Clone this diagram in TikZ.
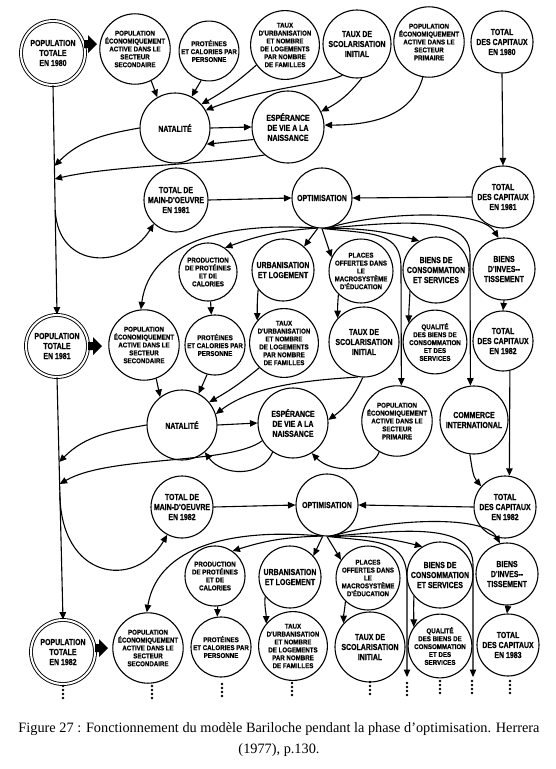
\documentclass[tikz,border=0pt]{standalone}
\usepackage{fontspec}
\setmainfont{Liberation Serif}
\newfontfamily\nfa[FakeStretch=0.8,FakeBold=0.6]{Liberation Sans}
\newfontfamily\nfb[FakeStretch=0.88,FakeBold=0.6]{Liberation Sans}
\usetikzlibrary{arrows.meta}
\newcommand\fmd{\nfa\bfseries\fontsize{8.7}{10}\selectfont}
\newcommand\fsm{\nfb\bfseries\fontsize{7}{7.9}\selectfont}
\tikzset{
  nd/.style={circle, draw, line width=1.1pt, inner sep=0pt, align=center, minimum size=#1},
  md/.style={font=\fmd},
  sm/.style={font=\fsm},
  pop/.style={circle, draw, double, double distance=2pt, line width=0.9pt, inner sep=0pt, align=center, minimum size=#1, font=\fmd},
  arr/.style={-{Triangle[length=7.5pt,width=6.5pt]}, line width=1.1pt},
  blk/.style={fill=black},
  dot/.style={fill=black},
  capt/.style={font=\fontsize{14.3}{17}\selectfont, inner sep=0pt}
}
\begin{document}
\begin{tikzpicture}[x=1pt,y=-1pt]
\useasboundingbox (0,0) rectangle (556,769);
% row 1
\node[pop=64pt] (P0) at (53,53) {POPULATION\\TOTALE\\EN 1980};
\node[nd=64pt, sm] (S0) at (135,49) {POPULATION\\ÉCONOMIQUEMENT\\ACTIVE DANS LE\\SECTEUR\\SECONDAIRE};
\node[nd=58pt, sm] (Pr0) at (209,51) {PROTÉINES\\ET CALORIES PAR\\PERSONNE};
\node[nd=66pt, sm] (U0) at (285,45) {TAUX\\D'URBANISATION\\ET NOMBRE\\DE LOGEMENTS\\PAR NOMBRE\\DE FAMILLES};
\node[nd=68pt, md] (Sc0) at (357,44) {TAUX DE\\SCOLARISATION\\INITIAL};
\node[nd=62pt, sm] (Pp0) at (429,42) {POPULATION\\ÉCONOMIQUEMENT\\ACTIVE DANS LE\\SECTEUR\\PRIMAIRE};
\node[nd=62pt, md] (K0) at (502,42) {TOTAL\\DES CAPITAUX\\EN 1980};
% row 2
\node[nd=70pt, md] (N0) at (175,128) {NATALITÉ};
\node[nd=72pt, md] (E0) at (288,127) {ESPÉRANCE\\DE VIE A LA\\NAISSANCE};
% row 3
\node[nd=64pt, md] (M1) at (176,200) {TOTAL DE\\MAIN-D'OEUVRE\\EN 1981};
\node[nd=60pt, md] (O1) at (322,198) {OPTIMISATION};
\node[nd=62pt, md] (K1) at (503,197) {TOTAL\\DES CAPITAUX\\EN 1981};
% row 4
\node[nd=58pt, sm] (PP1) at (208,272) {PRODUCTION\\DE PROTÉINES\\ET DE\\CALORIES};
\node[nd=62pt, md] (UL1) at (283,270) {URBANISATION\\ET LOGEMENT};
\node[nd=60pt, sm] (PL1) at (361,271) {PLACES\\OFFERTES DANS\\LE\\MACROSYSTÈME\\D'ÉDUCATION};
\node[nd=66pt, md] (BC1) at (436,270) {BIENS DE\\CONSOMMATION\\ET SERVICES};
\node[nd=62pt, md] (BI1) at (504,269) {BIENS\\D'INVES--\\TISSEMENT};
% row 5
\node[pop=62pt] (P1) at (57,346) {POPULATION\\TOTALE\\EN 1981};
\node[nd=68pt, sm] (S1) at (144,345) {POPULATION\\ÉCONOMIQUEMENT\\ACTIVE DANS LE\\SECTEUR\\SECONDAIRE};
\node[nd=60pt, sm] (Pr1) at (215,345) {PROTÉINES\\ET CALORIES PAR\\PERSONNE};
\node[nd=68pt, sm] (U1) at (284,343) {TAUX\\D'URBANISATION\\ET NOMBRE\\DE LOGEMENTS\\PAR NOMBRE\\DE FAMILLES};
\node[nd=70pt, md] (Sc1) at (364,342) {TAUX DE\\SCOLARISATION\\INITIAL};
\node[nd=62pt, sm] (Q1) at (435,342) {QUALITÉ\\DES BIENS DE\\CONSOMMATION\\ET DES\\SERVICES};
\node[nd=60pt, md] (K2a) at (503,341) {TOTAL\\DES CAPITAUX\\EN 1982};
% row 6
\node[nd=70pt, md] (N1) at (182,425) {NATALITÉ};
\node[nd=70pt, md] (E1) at (293,423) {ESPÉRANCE\\DE VIE A LA\\NAISSANCE};
\node[nd=68pt, sm] (Pp1) at (397,421) {POPULATION\\ÉCONOMIQUEMENT\\ACTIVE DANS LE\\SECTEUR\\PRIMAIRE};
\node[nd=68pt, md] (CI1) at (474,420) {COMMERCE\\INTERNATIONAL};
% row 7
\node[nd=62pt, md] (M2) at (182,507) {TOTAL DE\\MAIN-D'OEUVRE\\EN 1982};
\node[nd=62pt, md] (O2) at (327,505) {OPTIMISATION};
\node[nd=62pt, md] (K2) at (505,507) {TOTAL\\DES CAPITAUX\\EN 1982};
% row 8
\node[nd=60pt, sm] (PP2) at (215,576) {PRODUCTION\\DE PROTÉINES\\ET DE\\CALORIES};
\node[nd=62pt, md] (UL2) at (290,577) {URBANISATION\\ET LOGEMENT};
\node[nd=60pt, sm] (PL2) at (368,578) {PLACES\\OFFERTES DANS\\LE\\MACROSYSTÈME\\D'ÉDUCATION};
\node[nd=66pt, md] (BC2) at (440,575) {BIENS DE\\CONSOMMATION\\ET SERVICES};
\node[nd=62pt, md] (BI2) at (507,574) {BIENS\\D'INVES--\\TISSEMENT};
% row 9
\node[pop=64pt] (P2) at (63,652) {POPULATION\\TOTALE\\EN 1982};
\node[nd=70pt, sm] (S2) at (148,648) {POPULATION\\ÉCONOMIQUEMENT\\ACTIVE DANS LE\\SECTEUR\\SECONDAIRE};
\node[nd=60pt, sm] (Pr2) at (221,647) {PROTÉINES\\ET CALORIES PAR\\PERSONNE};
\node[nd=68pt, sm] (U2) at (293,646) {TAUX\\D'URBANISATION\\ET NOMBRE\\DE LOGEMENTS\\PAR NOMBRE\\DE FAMILLES};
\node[nd=70pt, md] (Sc2) at (370,647) {TAUX DE\\SCOLARISATION\\INITIAL};
\node[nd=62pt, sm] (Q2) at (440,646) {QUALITÉ\\DES BIENS DE\\CONSOMMATION\\ET DES\\SERVICES};
\node[nd=62pt, md] (K3) at (508,645) {TOTAL\\DES CAPITAUX\\EN 1983};
% coordinates on vertical lines and free ends
\coordinate (v1) at (54.4,166);
\coordinate (v2) at (54.6,179);
\coordinate (v3) at (55.2,210);
\coordinate (v4) at (59.1,462);
\coordinate (v5) at (59.6,484);
\coordinate (v6) at (59.8,492);
\coordinate (e1) at (407,677);
\coordinate (e2) at (473,677);
% black block arrows
\fill[blk] (84,40) -- (88,40) -- (88,35) -- (97,44) -- (88,53) -- (88,48) -- (84,48) -- cycle;
\fill[blk] (88,342) -- (93,342) -- (93,337) -- (102,346) -- (93,355) -- (93,350) -- (88,350) -- cycle;
\fill[blk] (95,644) -- (99,644) -- (99,639) -- (108,648) -- (99,657) -- (99,652) -- (95,652) -- cycle;
% 1980 block
\draw[arr] (S0.-63) -- (N0.120);
\draw[arr] (Pr0.-105) -- (N0.62);
\draw[arr] (U0.-145) to[bend left=6] (N0.42);
\draw[arr] (Sc0.-115) .. controls (325,84) and (262,88) .. (N0.30);
\draw[arr] (Sc0.-82) to[bend left=12] (E0.25);
\draw[arr] (Pp0.-100) to[out=-105, in=0] (E0.3);
\draw[arr] (N0.0) -- (E0.180);
\draw[arr] (E0.-160) -- (N0.-27);
\draw[arr] (N0.180) to[out=190, in=45] (v1);
\draw[arr] (E0.-130) .. controls (200,165) and (110,166) .. (v2);
\draw[arr] (P0.south) -- (P1.north);
\draw[arr] (K0.south) -- (K1.north);
\draw[arr] (M1.0) -- (O1.180);
\draw[arr] (K1.180) -- (O1.0);
\draw[arr] (v3) .. controls (58,270) and (125,270) .. (M1.-133);
% from optimisation 1981
\draw[arr] (O1.-100) to[bend right=8] (PP1.55);
\draw[arr] (O1.-100) .. controls (230,222) and (150,240) .. (S1.95);
\draw[arr] (O1.-98) -- (UL1.48);
\draw[arr] (O1.-90) -- (PL1.155);
\draw[arr] (O1.-85) to[bend left=8] (BC1.120);
\draw[arr] (O1.-80) .. controls (380,212) and (480,208) .. (BI1.100);
\draw[arr] (O1.-88) .. controls (375,234) and (401,232) .. (401,268) -- (Pp1.83);
\draw[arr] (O1.-82) .. controls (400,222) and (470,214) .. (470,255) -- (CI1.96);
\draw[arr] (PP1.-85) -- (Pr1.97);
\draw[arr] (UL1.-142) to[out=-95, in=90] (U1.140);
\draw[arr] (PL1.-134) to[out=-95, in=90] (Sc1.138);
\draw[arr] (BC1.-141) to[out=-92, in=90] (Q1.144);
\draw[arr] (BI1.-90) -- (K2a.90);
% 1981 block
\draw[arr] (S1.-70) -- (N1.128);
\draw[arr] (Pr1.-105) -- (N1.62);
\draw[arr] (U1.-135) to[bend left=5] (N1.40);
\draw[arr] (Sc1.-100) .. controls (315,380) and (255,384) .. (N1.18);
\draw[arr] (Sc1.-92) to[bend left=15] (E1.5);
\draw[arr] (N1.0) -- (E1.180);
\draw[arr] (Pp1.-120) .. controls (372,472) and (332,474) .. (E1.-58);
\draw[arr] (E1.-125) .. controls (262,478) and (222,476) .. (N1.-50);
\draw[arr] (N1.180) to[out=190, in=45] (v4);
\draw[arr] (E1.-150) .. controls (230,465) and (110,455) .. (v5);
\draw[arr] (P1.south) -- (P2.north);
\draw[arr] (K2a.-77) -- (K2.82);
\draw[arr] (CI1.-97) to[out=-80, in=130] (K2.139);
\draw[arr] (M2.0) -- (O2.180);
\draw[arr] (K2.180) -- (O2.0);
\draw[arr] (v6) .. controls (60,580) and (135,590) .. (M2.-118);
% from optimisation 1982
\draw[arr] (O2.-100) to[bend right=8] (PP2.55);
\draw[arr] (O2.-100) .. controls (235,528) and (158,545) .. (S2.92);
\draw[arr] (O2.-98) -- (UL2.42);
\draw[arr] (O2.-90) -- (PL2.146);
\draw[arr] (O2.-85) to[bend left=8] (BC2.122);
\draw[arr] (O2.-80) .. controls (390,518) and (485,515) .. (BI2.103);
\draw[arr] (O2.-88) .. controls (380,542) and (407,540) .. (407,580) -- (e1);
\draw[arr] (O2.-82) .. controls (405,530) and (473,522) .. (473,565) -- (e2);
\draw[arr] (PP2.-85) -- (Pr2.97);
\draw[arr] (UL2.-142) to[out=-95, in=90] (U2.140);
\draw[arr] (PL2.-134) to[out=-95, in=90] (Sc2.138);
\draw[arr] (BC2.-141) to[out=-92, in=90] (Q2.144);
\draw[arr] (BI2.-88) -- (K3.92);
% continuation dots
\foreach \x/\y in {63/686,152/686,222/684,292/683,370/682,407/683,440/681,472/681,510/681}{
  \foreach \k in {0,4,8,12}{\fill[dot] (\x,\y+\k) circle (1.4);}
}
% caption
\node[capt] (cap1) at (279,729) {Figure 27 : Fonctionnement du modèle Bariloche pendant la phase d’optimisation. Herrera};
\node[capt] (cap2) at (279,750) {(1977), p.130.};
\end{tikzpicture}
\end{document}
